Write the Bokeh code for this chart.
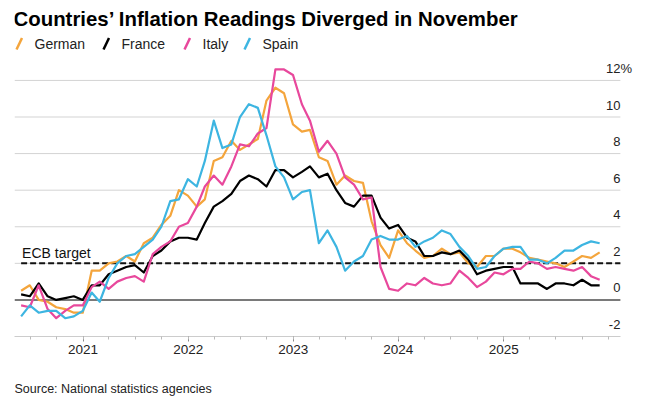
import pandas as pd
from bokeh.plotting import figure
from bokeh.models import Range1d, FixedTicker, DatetimeTickFormatter, Label, PolyAnnotation, Title
from bokeh.core.properties import value
from bokeh.embed import file_html
from bokeh.resources import INLINE

# ---------------- data (monthly readings, % y/y) ----------------
first_month = "2020-05-01"   # May 2020 ... Nov 2025

german = [0.5, 0.8, 0.0, -0.1, -0.4, -0.5, -0.7, -0.7,
          1.6, 1.6, 2.0, 2.1, 2.4, 2.1, 3.1, 3.4, 4.1, 4.6, 6.0, 5.7,
          5.1, 5.5, 7.6, 7.8, 8.7, 8.2, 8.5, 8.8, 10.9, 11.6, 11.3, 9.6,
          9.2, 9.3, 7.8, 7.6, 6.3, 6.8, 6.5, 6.4, 4.3, 3.0, 2.3, 3.8,
          3.1, 2.7, 2.3, 2.4, 2.8, 2.5, 2.6, 2.0, 1.8, 2.4, 2.4, 2.8,
          2.8, 2.6, 2.3, 2.2, 2.1, 2.0, 1.8, 2.1, 2.4, 2.3, 2.6]

france = [0.3, 0.2, 0.9, 0.2, 0.0, 0.1, 0.2, 0.0,
          0.8, 0.8, 1.4, 1.6, 1.8, 1.9, 1.5, 2.4, 2.7, 3.2, 3.4, 3.4,
          3.3, 4.2, 5.1, 5.4, 5.8, 6.5, 6.8, 6.6, 6.2, 7.1, 7.1, 6.7,
          7.0, 7.3, 6.7, 6.9, 6.0, 5.3, 5.1, 5.7, 5.7, 4.5, 3.9, 4.1,
          3.4, 3.2, 2.4, 2.4, 2.6, 2.5, 2.7, 2.2, 1.4, 1.6, 1.7, 1.8,
          1.8, 0.9, 0.9, 0.9, 0.6, 0.9, 0.9, 0.8, 1.1, 0.8, 0.8]

italy = [-0.3, -0.4, 0.8, -0.5, -1.0, -0.6, -0.3, -0.3,
         0.7, 1.0, 0.6, 1.0, 1.2, 1.3, 1.0, 2.5, 2.9, 3.2, 4.0, 4.2,
         5.1, 6.2, 6.8, 6.3, 7.3, 8.5, 8.4, 9.1, 9.4, 12.6, 12.6, 12.3,
         10.7, 9.8, 8.1, 8.7, 8.0, 6.7, 6.3, 5.5, 5.6, 1.8, 0.6, 0.5,
         0.9, 0.8, 1.2, 0.9, 0.8, 0.9, 1.6, 1.2, 0.7, 1.0, 1.5, 1.4,
         1.7, 1.7, 2.1, 2.0, 1.7, 1.8, 1.7, 1.6, 1.8, 1.3, 1.1]

spain = [-0.9, -0.3, -0.7, -0.6, -0.6, -1.0, -0.9, -0.6,
         0.4, -0.1, 1.2, 2.0, 2.4, 2.5, 2.9, 3.3, 4.0, 5.4, 5.5, 6.6,
         6.2, 7.6, 9.8, 8.3, 8.5, 10.0, 10.7, 10.5, 9.0, 7.3, 6.7, 5.5,
         5.9, 6.0, 3.1, 3.8, 2.9, 1.6, 2.1, 2.4, 3.3, 3.5, 3.3, 3.3,
         3.5, 2.9, 3.2, 3.4, 3.8, 3.6, 2.9, 2.4, 1.7, 1.8, 2.4, 2.8,
         2.9, 2.9, 2.2, 2.2, 2.0, 2.3, 2.7, 2.7, 3.0, 3.2, 3.1]

series_names = ["German", "France", "Italy", "Spain"]
series_values = [german, france, italy, spain]
series_colors = ["#F4A53C", "#000000", "#E8489C", "#3DB5E1"]

y_ticks = [-2, 0, 2, 4, 6, 8, 10, 12]
y_tick_labels = ["-2", "0", "2", "4", "6", "8", "10", "12"]
year_ticks = ["2021-01-01", "2022-01-01", "2023-01-01", "2024-01-01", "2025-01-01"]
ecb_target = 2.0
ecb_label = "ECB target"
title_text = "Countries\u2019 Inflation Readings Diverged in November"
source_text = "Source: National statistics agencies"

# ---------------- derived ----------------
dates = pd.date_range(first_month, periods=len(german), freq="MS") + pd.offsets.MonthEnd(0)
x_start = pd.Timestamp("2020-05-08")
x_end = pd.Timestamp("2026-03-31")
grid_end = pd.Timestamp("2026-02-10")

def ms(ts):
    return pd.Timestamp(ts).value // 10**6

major = [ms(t) for t in year_ticks]
minor = [ms(t) for t in pd.date_range("2020-07-01", "2026-01-01", freq="QS")]

FONT = "Liberation Sans"

# frame spans from the canvas top down to the axis, so header texts sit inside it
p = figure(width=647, height=404, title=None, x_axis_type="datetime",
           y_axis_location=None,
           x_range=Range1d(x_start, x_end), y_range=Range1d(-2, 16.37),
           toolbar_location=None, output_backend="svg",
           min_border_left=14, min_border_right=13, min_border_top=0, min_border_bottom=68)
p.outline_line_color = None
p.grid.visible = False
p.background_fill_color = "white"
p.border_fill_color = "white"

# gridlines (0 drawn darker; -2 is the axis line)
grid_vals = [v for v in y_ticks if v not in (0, -2)]
p.segment(x0=[x_start] * len(grid_vals), x1=[grid_end] * len(grid_vals),
          y0=grid_vals, y1=grid_vals, line_color="#d3d3d3", line_width=1)
p.segment(x0=[x_start], x1=[grid_end], y0=[0], y1=[0], line_color="#7a7a7a", line_width=2)

# ECB target line
p.segment(x0=[dates[0]], x1=[grid_end], y0=[ecb_target], y1=[ecb_target],
          line_color="#111111", line_width=2, line_dash="6 3")

# series
for name, vals, col in zip(series_names, series_values, series_colors):
    p.line(dates, vals, line_color=col, line_width=2.2, line_join="round")

# right-side tick labels (sitting above their gridlines)
p.text(x=[grid_end] * len(y_ticks), y=y_ticks, text=y_tick_labels,
       text_align="right", text_baseline="middle", y_offset=-12,
       text_font=value(FONT), text_font_size="13px", text_color="#222222")
p.text(x=[grid_end], y=[y_ticks[-1]], text=["%"],
       text_align="left", text_baseline="middle", y_offset=-12,
       text_font=value(FONT), text_font_size="13px", text_color="#222222")

# ECB label
p.text(x=[dates[0]], y=[ecb_target], text=[ecb_label], x_offset=1, y_offset=-10,
       text_align="left", text_baseline="middle",
       text_font=value(FONT), text_font_size="14px", text_color="#111111")

# x axis
ax = p.xaxis[0]
ax.ticker = FixedTicker(ticks=major, minor_ticks=minor)
ax.formatter = DatetimeTickFormatter(years="%Y", months="%Y", days="%Y", hours="%Y",
                                     hourmin="%Y", minutes="%Y", minsec="%Y", seconds="%Y",
                                     milliseconds="%Y", microseconds="%Y")
ax.bounds = (x_start, grid_end)
ax.axis_line_color = "#cccccc"
ax.major_tick_line_color = "#888888"
ax.minor_tick_line_color = "#bbbbbb"
ax.major_tick_in = 0
ax.major_tick_out = 5
ax.minor_tick_in = 0
ax.minor_tick_out = 3
ax.major_label_standoff = 3
ax.major_label_text_font = FONT
ax.major_label_text_font_size = "13.5px"
ax.major_label_text_color = "#222222"

# title
p.add_layout(Label(x=13, y=18, x_units="canvas", y_units="canvas", text=title_text,
                   text_font=FONT, text_font_style="bold", text_font_size="20.4px",
                   text_color="#000000", text_baseline="middle"))

# legend
legend_x = [34, 121, 202, 262]
for name, col, lx in zip(series_names, series_colors, legend_x):
    p.add_layout(PolyAnnotation(xs=[lx - 18, lx - 12.5], ys=[49, 37.5],
                                xs_units="canvas", ys_units="canvas",
                                fill_alpha=0, line_color=col, line_alpha=1.0,
                                line_width=2.5))
    p.add_layout(Label(x=lx, y=43, x_units="canvas", y_units="canvas", text=name,
                       text_font=FONT, text_font_size="14px", text_color="#222222",
                       text_baseline="middle"))

# source
p.add_layout(Title(text=source_text, align="left", text_font=FONT, text_font_size="12.5px",
                   text_font_style="normal", text_color="#222222", standoff=0,
                   padding=dict(left=0, right=0, top=23, bottom=0)), "below")

open("out.html", "w").write(file_html(p, INLINE))
